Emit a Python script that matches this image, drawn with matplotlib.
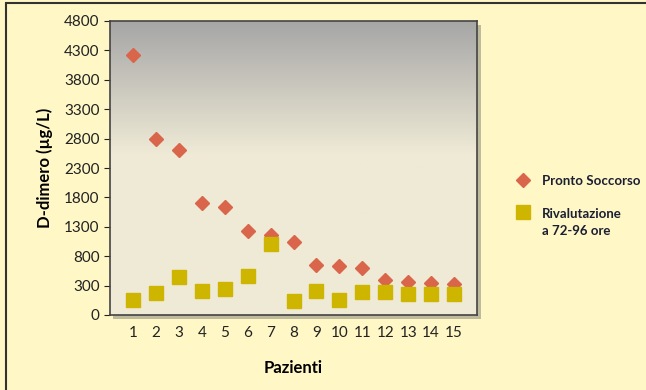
import numpy as np
import matplotlib
matplotlib.use('Agg')
import matplotlib.pyplot as plt
from matplotlib.patches import Rectangle
from matplotlib.colors import LinearSegmentedColormap
from matplotlib.transforms import Affine2D

pazienti = list(range(1, 16))
pronto_soccorso = [4220, 2790, 2600, 1710, 1640, 1225, 1165, 1045, 650, 635, 605, 395, 355, 340, 325]
rivalutazione = [50, 170, 445, 215, 245, 470, 1010, 40, 200, 55, 190, 190, 155, 155, 155]
y_ticks = [-200, 300, 800, 1300, 1800, 2300, 2800, 3300, 3800, 4300, 4800]
y_labels = ["0", "300", "800", "1300", "1800", "2300", "2800", "3300", "3800", "4300", "4800"]

plt.rcParams['font.family'] = ['Lato', 'DejaVu Sans']

fig = plt.figure(figsize=(6.46, 3.90), dpi=100)
fig.patch.set_facecolor('#FFF7C6')
# cornice del grafico
fig.add_artist(Rectangle((6 / 646, -0.05), 1.1, 1.05 - 3 / 390, transform=fig.transFigure,
                         fill=False, edgecolor='#333333', lw=1.5))

ax = fig.add_axes([110 / 646, 75 / 390, 367 / 646, 294 / 390])

# ombra
fig.add_artist(Rectangle((113 / 646, 71 / 390), 368 / 646, 294 / 390, transform=fig.transFigure,
                         facecolor='#8a8a7a', edgecolor='none', alpha=0.55, zorder=0))

# sfondo sfumato
cmap = LinearSegmentedColormap.from_list('bg', [(0, '#A6A6A6'), (0.45, '#EFEAD6'), (1, '#EFEAD6')])
grad = np.linspace(0, 1, 256).reshape(-1, 1)
ax.imshow(grad, cmap=cmap, extent=[0, 1, 0, 1], transform=ax.transAxes, aspect='auto', zorder=0)

ax.plot(pazienti, pronto_soccorso, 'D', color='#D9654B', ms=7.5, label='Pronto Soccorso', zorder=3)
ax.plot(pazienti, rivalutazione, 's', color='#CDB500', ms=10, label='Rivalutazione\na 72-96 ore', zorder=3)

ax.set_xlim(0, 16)
ax.set_ylim(-200, 4800)
ax.set_xticks(pazienti)
ax.set_yticks(y_ticks)
ax.set_yticklabels(y_labels)
ax.tick_params(axis='x', length=0, labelsize=11, pad=8, colors='#222222')
ax.tick_params(axis='y', length=4, labelsize=11, colors='#222222')
for s in ax.spines.values():
    s.set_color('#444444')
    s.set_linewidth(1.2)

ax.set_xlabel('Pazienti', fontsize=12, fontweight='bold', labelpad=14)
ax.set_ylabel('D-dimero (µg/L)', fontsize=12, fontweight='bold', labelpad=8)

leg = fig.legend(loc='upper left', bbox_to_anchor=(508 / 646, 1 - 168 / 390), frameon=False,
                 prop={'weight': 'bold', 'size': 9.5}, labelspacing=0.85, handletextpad=0.9,
                 handlelength=1.2, borderpad=0)
for t in leg.get_texts():
    t.set_color('#1a1f33')
    t.set_linespacing(1.45)
    t.set_verticalalignment('center_baseline')
    # testo allineato al marcatore (prima riga)
    t.set_transform(t.get_transform() + Affine2D().translate(0, 5))

fig.savefig('out.png', dpi=100, facecolor=fig.get_facecolor())
